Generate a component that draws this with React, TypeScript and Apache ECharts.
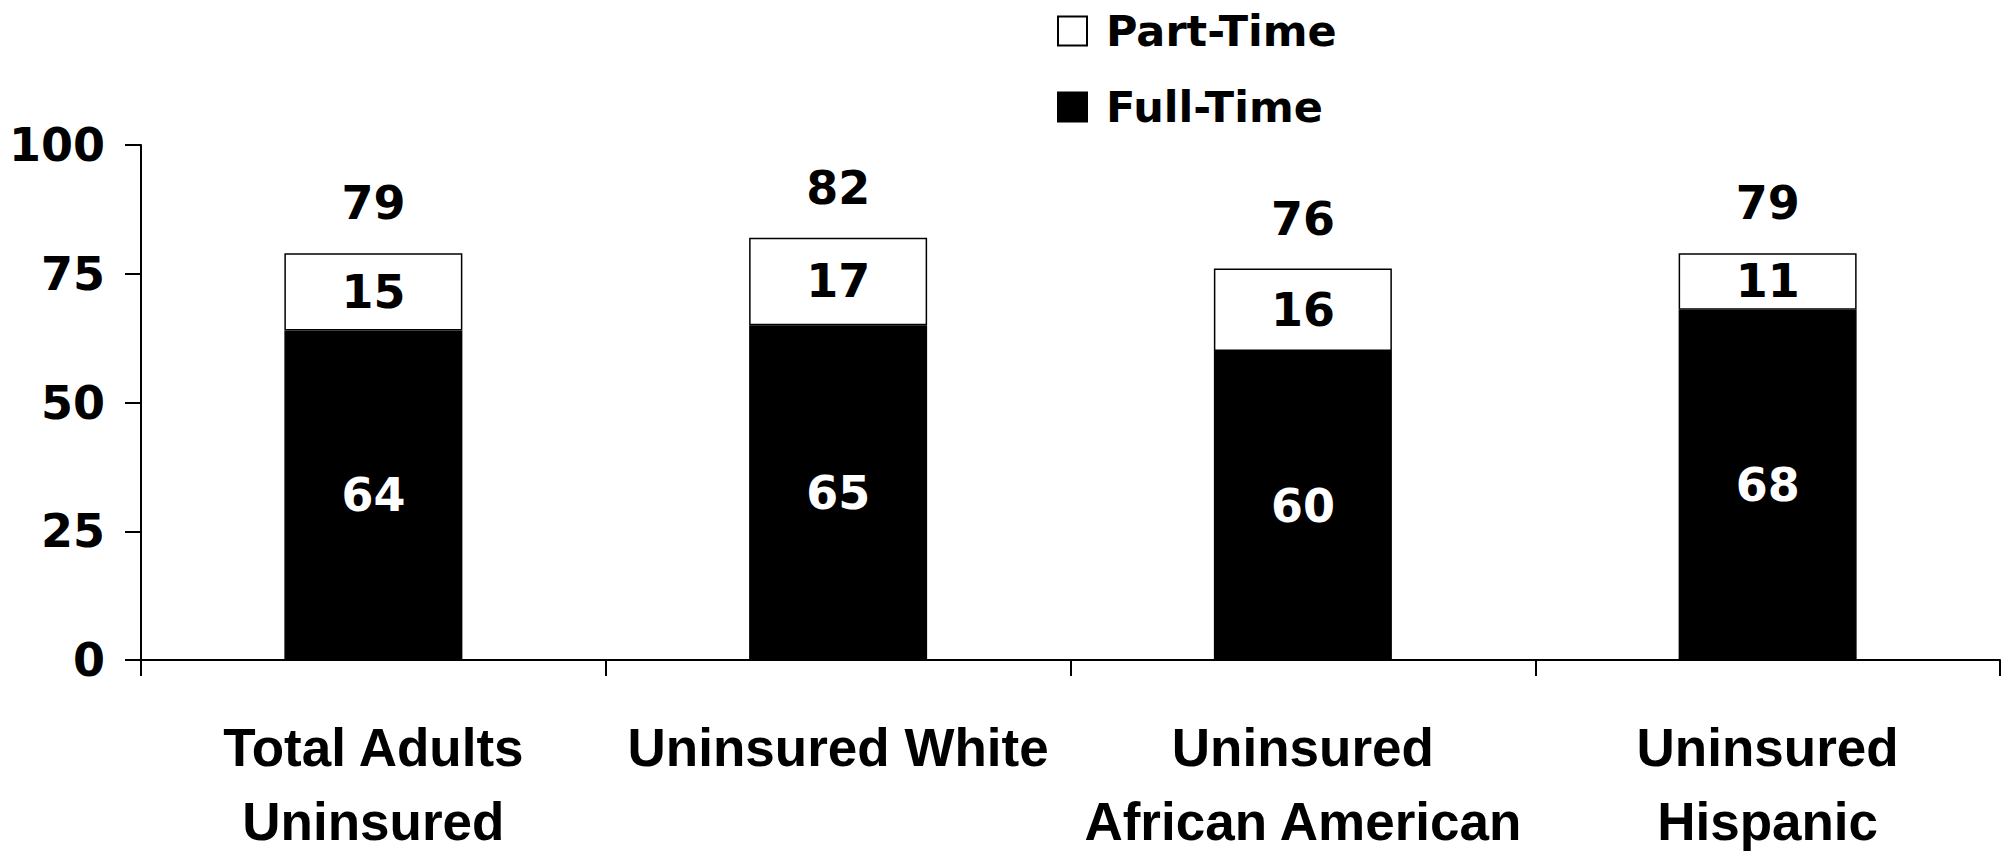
import React, { useEffect, useRef } from "react";
import * as echarts from "echarts";

const categories = [
  "Total Adults\nUninsured",
  "Uninsured White",
  "Uninsured\nAfrican American",
  "Uninsured\nHispanic",
];
const fullTime = [64, 65, 60, 68];
const partTime = [15, 17, 16, 11];
const totals = [79, 82, 76, 79];
const yTicks = { min: 0, max: 100, interval: 25 };

const NUM_FONT = "DejaVu Sans";
const CAT_FONT = "Liberation Sans";

export default function App() {
  const ref = useRef<HTMLDivElement>(null);
  useEffect(() => {
    document.body.style.margin = "0";
    document.body.style.overflow = "hidden";
    const chart = echarts.init(ref.current!, null, { renderer: "svg" });
    const numLabel = {
      fontFamily: NUM_FONT,
      fontWeight: "bold" as const,
      fontSize: 46,
      lineHeight: 46,
    };
    chart.setOption({
      animation: false,
      backgroundColor: "#ffffff",
      legend: {
        data: ["Part-Time", "Full-Time"],
        orient: "vertical",
        left: 1052,
        top: 4,
        itemWidth: 29,
        itemHeight: 29,
        itemGap: 32,
        icon: "rect",
        selectedMode: false,
        textStyle: {
          ...numLabel,
          fontSize: 43,
          lineHeight: 44,
          color: "#000",
          padding: [0, 0, 0, 14],
        },
      },
      grid: { left: 141, right: 15, top: 145, bottom: 183 },
      xAxis: {
        type: "category",
        data: categories,
        axisLine: { show: true, lineStyle: { color: "#000", width: 2 } },
        axisTick: { show: true, length: 16, lineStyle: { color: "#000", width: 2 } },
        axisLabel: {
          interval: 0,
          margin: 50,
          color: "#000",
          fontFamily: CAT_FONT,
          fontWeight: "bold",
          fontSize: 53,
          lineHeight: 74,
        },
      },
      yAxis: {
        type: "value",
        min: yTicks.min,
        max: yTicks.max,
        interval: yTicks.interval,
        splitLine: { show: false },
        axisLine: { show: true, lineStyle: { color: "#000", width: 2 } },
        axisTick: { show: true, length: 16, lineStyle: { color: "#000", width: 2 } },
        axisLabel: {
          margin: 36,
          color: "#000",
          ...numLabel,
        },
      },
      series: [
        {
          name: "Full-Time",
          type: "bar",
          stack: "s",
          barWidth: "38.3%",
          barGap: "-100%",
          data: fullTime,
          itemStyle: { color: "#000", borderColor: "#000", borderWidth: 1.5 },
          label: { show: true, position: "inside", color: "#fff", ...numLabel },
        },
        {
          name: "Part-Time",
          type: "bar",
          stack: "s",
          barWidth: "38.3%",
          barGap: "-100%",
          data: partTime,
          itemStyle: { color: "#fff", borderColor: "#000", borderWidth: 1.5 },
          label: { show: true, position: "inside", color: "#000", ...numLabel },
        },
        {
          name: "Total",
          type: "bar",
          barWidth: "38.3%",
          barGap: "-100%",
          data: totals,
          silent: true,
          z: 0,
          itemStyle: { color: "rgba(0,0,0,0)" },
          label: { show: true, position: "top", distance: 27, color: "#000", ...numLabel },
        },
      ],
    });
    return () => chart.dispose();
  }, []);
  return (
    <div
      ref={ref}
      style={{ position: "absolute", left: 0, top: 0, width: 2015, height: 858 }}
    />
  );
}
